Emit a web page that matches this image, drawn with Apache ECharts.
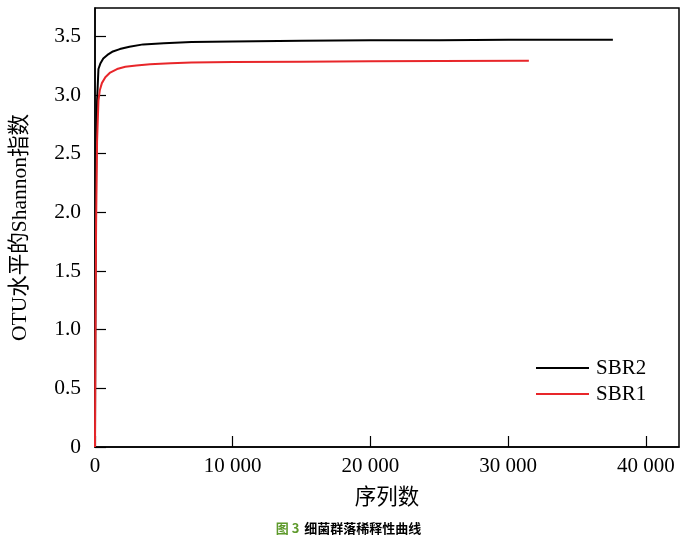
<!DOCTYPE html>
<html>
<head>
<meta charset="utf-8">
<script src="https://cdn.jsdelivr.net/npm/echarts@6/dist/echarts.min.js"></script>
<style>html,body{margin:0;padding:0;background:#fff}#c{width:697px;height:539px}</style>
</head>
<body>
<div id="c"></div>
<script>
var sbr2Seqs = [0, 30, 80, 150, 250, 400, 600, 900, 1300, 1800, 2500, 3500, 5000, 7000, 10000, 15000, 20000, 25000, 30000, 35000, 37600];
var sbr2Shannon = [0, 1.2, 2.3, 2.95, 3.22, 3.27, 3.31, 3.34, 3.37, 3.39, 3.41, 3.43, 3.44, 3.45, 3.455, 3.46, 3.465, 3.465, 3.47, 3.47, 3.47];
var sbr1Seqs = [0, 30, 80, 150, 250, 350, 500, 750, 1100, 1600, 2200, 3000, 4000, 5500, 7000, 10000, 15000, 20000, 25000, 31500];
var sbr1Shannon = [0, 0.9, 1.9, 2.6, 2.95, 3.04, 3.10, 3.15, 3.19, 3.22, 3.24, 3.25, 3.26, 3.27, 3.275, 3.28, 3.283, 3.286, 3.288, 3.29];
var seriesNames = ['SBR2', 'SBR1'];
var xTickValues = [0, 10000, 20000, 30000, 40000];
var xTitle = '序列数';
var yTitle = 'OTU水平的Shannon指数';
var captionNum = '图 3';
var captionText = '细菌群落稀释性曲线';

function zip(a, b) { return a.map(function (v, i) { return [v, b[i]]; }); }
var serif = '"Liberation Serif", "Noto Sans CJK SC", serif';
var chart = echarts.init(document.getElementById('c'));
chart.setOption({
  animation: false,
  title: {
    text: '{a|' + captionNum + '} {b|' + captionText + '}',
    left: 'center', top: 514,
    textStyle: {
      rich: {
        a: { fontSize: 13, fontWeight: 'bold', color: '#5e9a2c', fontFamily: '"Noto Sans CJK SC", sans-serif' },
        b: { fontSize: 13, fontWeight: 'bold', color: '#000', fontFamily: '"Noto Sans CJK SC", sans-serif' }
      }
    }
  },
  legend: {
    orient: 'vertical', left: 531, top: 352,
    itemWidth: 53, itemHeight: 2, itemGap: 4,
    icon: 'rect',
    textStyle: { fontSize: 21, lineHeight: 22, fontFamily: serif, color: '#000', padding: [0, 0, 0, 2] },
    data: seriesNames
  },
  grid: { left: 95, right: 18, top: 8, bottom: 92, show: true, borderColor: '#000', borderWidth: 1.5, containLabel: false },
  xAxis: {
    type: 'value', min: 0, max: 42400, interval: 10000,
    name: xTitle, nameLocation: 'middle', nameGap: 41,
    nameTextStyle: { fontSize: 21.5, fontFamily: serif, color: '#000' },
    axisLine: { lineStyle: { color: '#000', width: 1.5 } },
    axisTick: { inside: true, length: 11, lineStyle: { color: '#000', width: 1.2 } },
    splitLine: { show: false },
    axisLabel: {
      fontSize: 21, fontFamily: serif, color: '#000', margin: 9, showMaxLabel: false,
      formatter: function (v) {
        if (xTickValues.indexOf(v) < 0) return '';
        return v === 0 ? '0' : String(v).replace(/\B(?=(\d{3})+(?!\d))/g, ' ');
      }
    }
  },
  yAxis: {
    type: 'value', min: 0, max: 3.74, interval: 0.5,
    name: yTitle, nameLocation: 'middle', nameGap: 64,
    nameTextStyle: { fontSize: 21.5, fontFamily: serif, color: '#000' },
    axisLine: { lineStyle: { color: '#000', width: 1.5 } },
    axisTick: { inside: true, length: 11, lineStyle: { color: '#000', width: 1.2 } },
    splitLine: { show: false },
    axisLabel: {
      fontSize: 21.5, fontFamily: serif, color: '#000', margin: 14, showMaxLabel: false,
      formatter: function (v) { return v === 0 ? '0' : v.toFixed(1); }
    }
  },
  series: [
    { name: seriesNames[0], type: 'line', data: zip(sbr2Seqs, sbr2Shannon), showSymbol: false, symbol: 'none',
      lineStyle: { color: '#000', width: 2 }, itemStyle: { color: '#000' } },
    { name: seriesNames[1], type: 'line', data: zip(sbr1Seqs, sbr1Shannon), showSymbol: false, symbol: 'none',
      lineStyle: { color: '#e8262a', width: 2 }, itemStyle: { color: '#e8262a' } }
  ]
});
</script>
</body>
</html>
